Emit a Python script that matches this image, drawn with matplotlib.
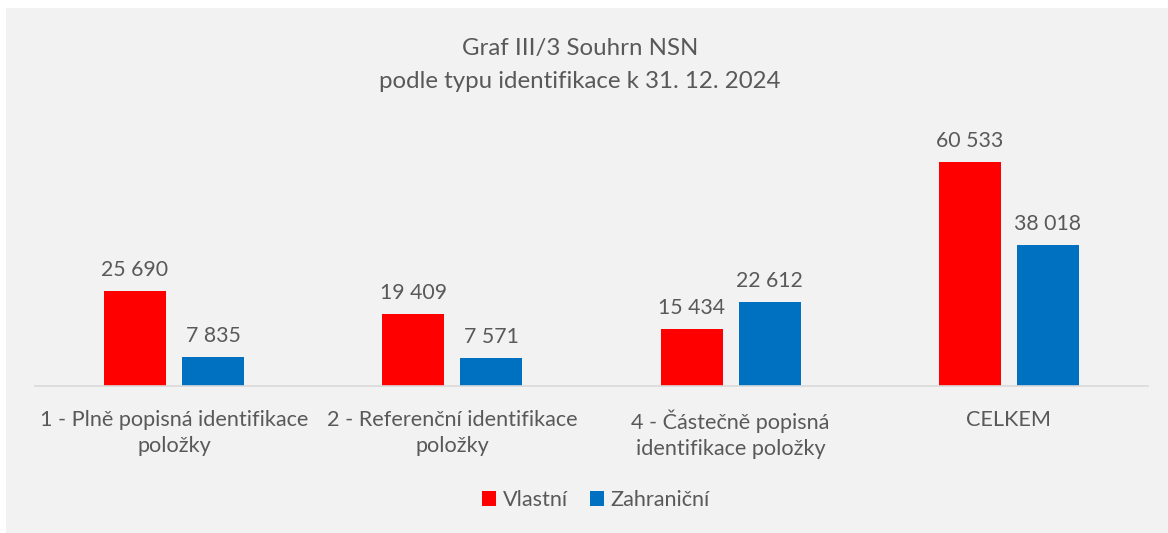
import numpy as np
import matplotlib.pyplot as plt
import matplotlib.patches as mpatches

plt.rcParams['font.family'] = ['Lato', 'DejaVu Sans']

categories = ["1 - Plně popisná identifikace\npoložky",
              "2 - Referenční identifikace\npoložky",
              "4 - Částečně popisná\nidentifikace položky",
              "CELKEM"]
vlastni = [25690, 19409, 15434, 60533]
zahranicni = [7835, 7571, 22612, 38018]
series_names = ["Vlastní", "Zahraniční"]

red = "#FF0000"
blue = "#0070C0"
txt = "#595959"
bg = "#F2F2F2"

W, H = 1168, 533
fig = plt.figure(figsize=(W / 100, H / 100), dpi=100)
fig.patch.set_facecolor("white")
fig.patches.append(mpatches.Rectangle((6 / W, 0), 1, 1 - 8 / H, transform=fig.transFigure,
                                      facecolor=bg, edgecolor="none", zorder=-10))

# axes: x 35..1148 px, baseline at y=386 px
ax = fig.add_axes([35 / W, (H - 386) / H, (1148 - 35) / W, (386 - 127) / H])
ax.set_facecolor("none")

x = np.arange(len(categories))
bw = 0.223
gap = 0.058
off = (bw + gap) / 2
b1 = ax.bar(x - off, vlastni, bw, color=red, label=series_names[0])
b2 = ax.bar(x + off, zahranicni, bw, color=blue, label=series_names[1])

def fmt(v):
    return f"{v:,}".replace(",", " ")

for bars, vals in ((b1, vlastni), (b2, zahranicni)):
    for b, v in zip(bars, vals):
        ax.annotate(fmt(v), (b.get_x() + b.get_width() / 2, v), xytext=(0, 8),
                    textcoords="offset points", ha="center", va="bottom",
                    fontsize=15.3, color=txt)

ax.set_xlim(-0.5, len(categories) - 0.5)
ax.set_ylim(0, 70000)
ax.set_yticks([])
ax.set_xticks(x)
ax.set_xticklabels(categories, fontsize=15.6, color=txt, linespacing=1.38)
ax.tick_params(axis="x", length=0, pad=17)
for s in ["top", "right", "left"]:
    ax.spines[s].set_visible(False)
ax.spines["bottom"].set_color("#D9D9D9")
ax.spines["bottom"].set_linewidth(1.2)

fig.text(580 / W, 1 - 48 / H, "Graf III/3 Souhrn NSN", ha="center", va="center",
         fontsize=17.3, color=txt)
fig.text(580 / W, 1 - 81 / H, "podle typu identifikace k 31. 12. 2024", ha="center",
         va="center", fontsize=17.3, color=txt)

fig.legend(loc="center", bbox_to_anchor=(596 / W, 1 - 500 / H), ncol=2, frameon=False,
           fontsize=15.6, labelcolor=txt, handlelength=0.65, handleheight=0.65,
           handletextpad=0.3, columnspacing=1.0)

fig.savefig("out.png", dpi=100, facecolor=fig.get_facecolor())
